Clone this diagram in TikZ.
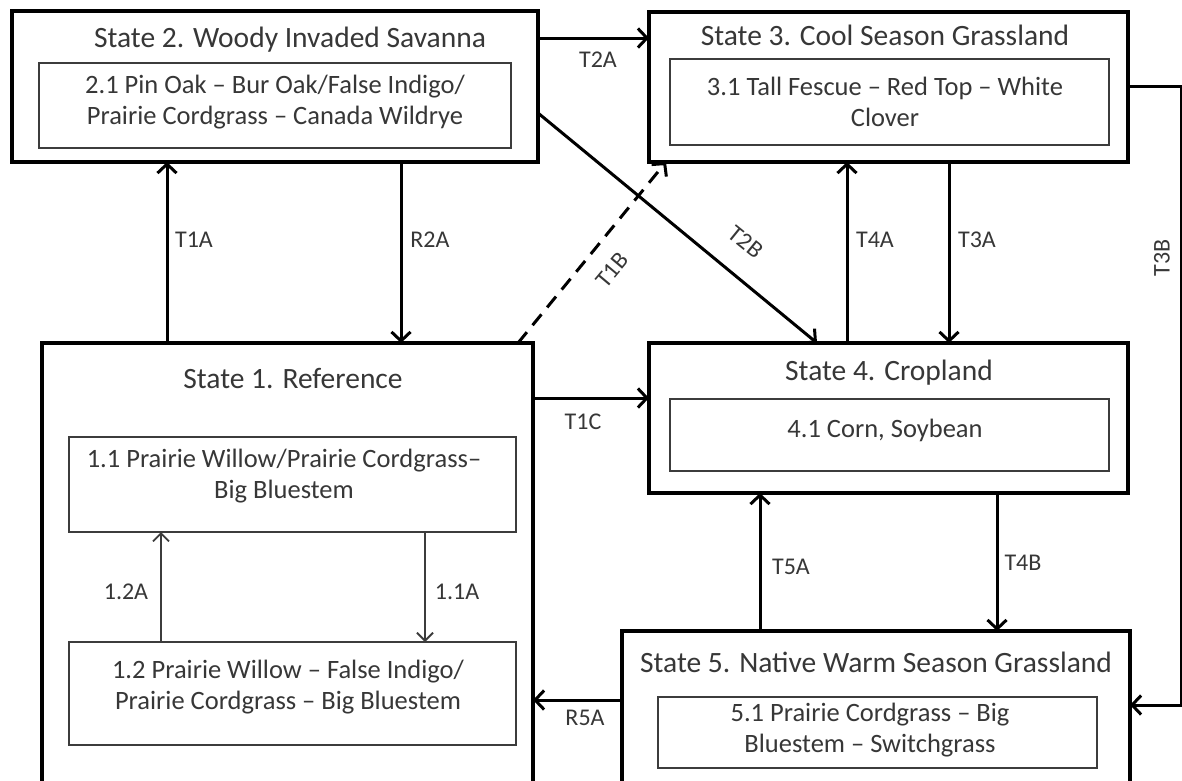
\documentclass[tikz,border=0pt]{standalone}
\usepackage{fontspec}
\setmainfont{Carlito}
\usetikzlibrary{arrows.meta}
\definecolor{txt}{RGB}{55,55,55}
\definecolor{innerline}{RGB}{60,60,60}
\begin{document}
\begin{tikzpicture}[x=1pt,y=-1pt,
  outerbox/.style={draw=black,line width=3.4pt,inner sep=0pt,outer sep=0pt},
  innerbox/.style={draw=innerline,line width=2pt,inner sep=0pt,outer sep=0pt},
  titletext/.style={text=txt,font=\fontsize{29.5}{34}\selectfont,inner sep=0pt},
  bodytext/.style={text=txt,font=\fontsize{26.5}{30.5}\selectfont,align=center,inner sep=0pt},
  lbl/.style={text=txt,font=\fontsize{24}{28}\selectfont,inner sep=0pt},
  arr/.style={draw=black,line width=3pt,-{Straight Barb[length=9pt,width=19pt,line width=3pt]}},
  thinarr/.style={draw=innerline,line width=1.8pt,-{Straight Barb[length=8pt,width=16pt,line width=1.8pt]}}
]
\useasboundingbox (0,0) rectangle (1182,780);
\fill[white] (0,0) rectangle (1182,780);

% State 2
\node[outerbox,minimum width=526pt,minimum height=151pt] (s2) at (275,86.5) {};
\node[titletext] (s2t) at (290,40) {State 2. Woody Invaded Savanna};
\node[innerbox,minimum width=472pt,minimum height=85pt] (s21) at (275,105.5) {};
\node[bodytext] (s21t) at (275,102) {2.1 Pin Oak – Bur Oak/False Indigo/\\Prairie Cordgrass – Canada Wildrye};

% State 3
\node[outerbox,minimum width=479pt,minimum height=150pt] (s3) at (888.5,87) {};
\node[titletext] (s3t) at (885,35) {State 3. Cool Season Grassland};
\node[innerbox,minimum width=439pt,minimum height=86pt] (s31) at (889.5,102) {};
\node[bodytext] (s31t) at (885,102) {3.1 Tall Fescue – Red Top – White\\Clover};

% State 1
\node[outerbox,minimum width=491pt,minimum height=457pt] (s1) at (287.5,571.5) {};
\node[titletext] (s1t) at (293,378) {State 1. Reference};
\node[innerbox,minimum width=447pt,minimum height=95pt] (s11) at (292.5,484.5) {};
\node[bodytext] (s11t) at (284,476) {1.1 Prairie Willow/Prairie Cordgrass–\\Big Bluestem};
\node[innerbox,minimum width=447pt,minimum height=103pt] (s12) at (292.5,693.5) {};
\node[bodytext] (s12t) at (288,687) {1.2 Prairie Willow – False Indigo/\\Prairie Cordgrass – Big Bluestem};

% State 4
\node[outerbox,minimum width=479pt,minimum height=150pt] (s4) at (888.5,418) {};
\node[titletext] (s4t) at (889,373) {State 4. Cropland};
\node[innerbox,minimum width=439pt,minimum height=72pt] (s41) at (889.5,435) {};
\node[bodytext] (s41t) at (885,430) {4.1 Corn, Soybean};

% State 5
\node[outerbox,minimum width=508pt,minimum height=159pt] (s5) at (876,710.5) {};
\node[titletext] (s5t) at (876,662) {State 5. Native Warm Season Grassland};
\node[innerbox,minimum width=439pt,minimum height=71pt] (s51) at (877.5,732.5) {};
\node[bodytext] (s51t) at (870,730) {5.1 Prairie Cordgrass – Big\\Bluestem – Switchgrass};

% connectors
\draw[arr] (s2.east |- 0,38) -- (s3.west |- 0,38);
\draw[arr] (s1.north -| 167,0) -- (s2.south -| 167,0);
\draw[arr] (s2.south -| 401,0) -- (s1.north -| 401,0);
\draw[arr] (s4.north -| 847,0) -- (s3.south -| 847,0);
\draw[arr] (s3.south -| 949,0) -- (s4.north -| 949,0);
\draw[arr] (s5.north -| 760,0) -- (s4.south -| 760,0);
\draw[arr] (s4.south -| 997,0) -- (s5.north -| 997,0);
\draw[arr] (s1.east |- 0,398) -- (s4.west |- 0,398);
\draw[arr] (s5.west |- 0,700) -- (s1.east |- 0,700);
\coordinate (t3a) at (1181,86);
\coordinate (t3b) at (1181,705);
\draw[arr] (s3.east |- t3a) -- (t3a) -- (t3b) -- (s5.east |- t3b);
\draw[arr] (s2.east |- 0,113) -- (s4.north -| 817,0);
\draw[arr,dash pattern=on 14pt off 9pt] (s1.north -| 518,0) -- (s3.south -| 666,0);
\draw[thinarr] (s12.north -| 161,0) -- (s11.south -| 161,0);
\draw[thinarr] (s11.south -| 425,0) -- (s12.north -| 425,0);

% labels
\node[lbl] (lT2A) at (598,60) {T2A};
\node[lbl] (lT1A) at (194,240) {T1A};
\node[lbl] (lR2A) at (430,240) {R2A};
\node[lbl] (lT4A) at (875,240) {T4A};
\node[lbl] (lT3A) at (977,240) {T3A};
\node[lbl] (lT1C) at (583,422) {T1C};
\node[lbl] (lR5A) at (585,718) {R5A};
\node[lbl] (lT5A) at (791,567) {T5A};
\node[lbl] (lT4B) at (1023,563) {T4B};
\node[lbl,rotate=90] (lT3B) at (1162,258) {T3B};
\node[lbl,rotate=50] (lT1B) at (612,270) {T1B};
\node[lbl,rotate=-39] (lT2B) at (746,242) {T2B};
\node[lbl] (l12A) at (126,592) {1.2A};
\node[lbl] (l11A) at (457,592) {1.1A};
\end{tikzpicture}
\end{document}
